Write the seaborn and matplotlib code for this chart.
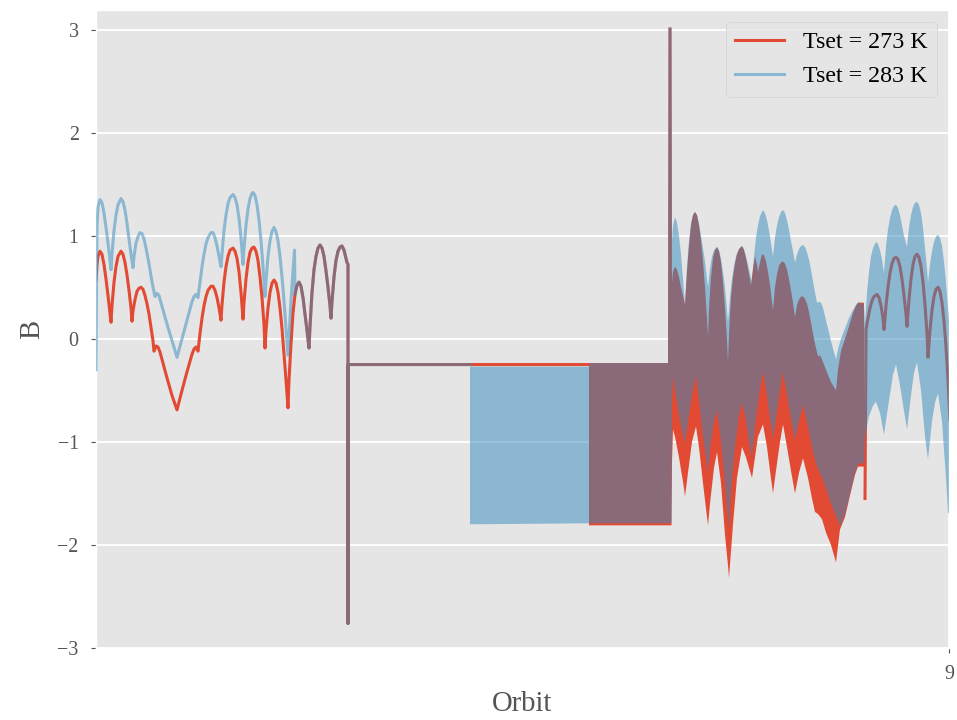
import matplotlib
matplotlib.use("Agg")
import matplotlib.pyplot as plt
import seaborn as sns

# ---------------------------------------------------------------------------
# Magnetic field component B along the orbit, for two set-point temperatures.
# Resolved stretches are stored as (orbit, B) lines; stretches where the
# signal oscillates too fast to resolve are stored as upper / lower envelopes.
# ---------------------------------------------------------------------------

# Tset = 273 K, resolved head of the record
head_273 = [
    (8.147, 0.57), (8.148, 0.72), (8.149, 0.80), (8.151, 0.85), (8.153, 0.82),
    (8.155, 0.72), (8.157, 0.58), (8.159, 0.42), (8.161, 0.25), (8.162, 0.16),
    (8.163, 0.32), (8.165, 0.55), (8.167, 0.70), (8.169, 0.80), (8.172, 0.85),
    (8.174, 0.82), (8.176, 0.74), (8.178, 0.62), (8.180, 0.47), (8.182, 0.30),
    (8.183, 0.17), (8.184, 0.27), (8.186, 0.38), (8.188, 0.46), (8.190, 0.49),
    (8.192, 0.50), (8.194, 0.48), (8.196, 0.42), (8.198, 0.34), (8.200, 0.24),
    (8.202, 0.11), (8.204, -0.02), (8.205, -0.12), (8.207, -0.07), (8.209, -0.08),
    (8.211, -0.13), (8.213, -0.20), (8.218, -0.38), (8.223, -0.55), (8.228, -0.69),
    (8.233, -0.50), (8.238, -0.32), (8.243, -0.15), (8.245, -0.10), (8.247, -0.08),
    (8.249, -0.12), (8.251, 0.05), (8.253, 0.20), (8.255, 0.32), (8.257, 0.41),
    (8.259, 0.47), (8.262, 0.51), (8.264, 0.51), (8.266, 0.47), (8.268, 0.40),
    (8.270, 0.30), (8.272, 0.18), (8.273, 0.33), (8.275, 0.55), (8.277, 0.70),
    (8.279, 0.80), (8.281, 0.86), (8.284, 0.88), (8.286, 0.85), (8.288, 0.78),
    (8.290, 0.65), (8.292, 0.45), (8.294, 0.19), (8.295, 0.35), (8.297, 0.58),
    (8.299, 0.74), (8.301, 0.84), (8.303, 0.88), (8.305, 0.89), (8.307, 0.85),
    (8.309, 0.76), (8.311, 0.60), (8.313, 0.40), (8.315, 0.14), (8.316, -0.09),
    (8.317, 0.08), (8.319, 0.30), (8.321, 0.45), (8.323, 0.54), (8.325, 0.57),
    (8.327, 0.54), (8.329, 0.45), (8.331, 0.30), (8.333, 0.10), (8.335, -0.15),
    (8.337, -0.40), (8.339, -0.67), (8.340, -0.40), (8.342, -0.05), (8.344, 0.25),
    (8.346, 0.43),
]

# Tset = 283 K, resolved head of the record
head_283 = [
    (8.147, -0.30), (8.148, 1.10), (8.149, 1.28), (8.151, 1.35), (8.153, 1.32),
    (8.155, 1.22), (8.157, 1.08), (8.159, 0.93), (8.161, 0.76), (8.162, 0.67),
    (8.163, 0.82), (8.165, 1.05), (8.167, 1.20), (8.169, 1.30), (8.172, 1.36),
    (8.174, 1.33), (8.176, 1.25), (8.178, 1.12), (8.180, 0.97), (8.182, 0.82),
    (8.184, 0.69), (8.185, 0.80), (8.187, 0.93), (8.189, 0.99), (8.191, 1.03),
    (8.193, 1.02), (8.195, 0.97), (8.197, 0.88), (8.199, 0.78), (8.201, 0.67),
    (8.203, 0.55), (8.206, 0.41), (8.208, 0.44), (8.210, 0.42), (8.214, 0.28),
    (8.219, 0.11), (8.224, -0.05), (8.228, -0.18), (8.233, 0.00), (8.238, 0.18),
    (8.243, 0.36), (8.245, 0.41), (8.247, 0.43), (8.249, 0.40), (8.251, 0.55),
    (8.253, 0.70), (8.255, 0.82), (8.257, 0.92), (8.259, 0.98), (8.262, 1.03),
    (8.264, 1.03), (8.266, 0.98), (8.268, 0.90), (8.270, 0.80), (8.272, 0.70),
    (8.273, 0.82), (8.275, 1.05), (8.277, 1.20), (8.279, 1.31), (8.281, 1.37),
    (8.284, 1.40), (8.286, 1.37), (8.288, 1.30), (8.290, 1.17), (8.292, 0.98),
    (8.294, 0.72), (8.295, 0.88), (8.297, 1.10), (8.299, 1.26), (8.301, 1.36),
    (8.303, 1.41), (8.304, 1.42), (8.306, 1.39), (8.308, 1.30), (8.310, 1.15),
    (8.312, 0.95), (8.314, 0.70), (8.316, 0.41), (8.317, 0.56), (8.319, 0.80),
    (8.321, 0.95), (8.323, 1.04), (8.325, 1.08), (8.327, 1.04), (8.329, 0.95),
    (8.331, 0.80), (8.333, 0.60), (8.335, 0.37), (8.337, 0.10), (8.339, -0.16),
    (8.341, 0.20), (8.343, 0.52), (8.3455, 0.86), (8.346, 0.43),
]

# stretch where both runs give the same values (drop-out and flat hold)
shared = [
    (8.348, 0.52), (8.350, 0.55), (8.352, 0.51), (8.354, 0.40), (8.356, 0.24),
    (8.358, 0.08), (8.360, -0.09), (8.361, 0.12), (8.363, 0.45), (8.365, 0.67),
    (8.367, 0.80), (8.369, 0.88), (8.371, 0.91), (8.373, 0.88), (8.375, 0.80),
    (8.377, 0.66), (8.379, 0.50), (8.381, 0.32), (8.382, 0.20), (8.383, 0.36),
    (8.385, 0.60), (8.387, 0.76), (8.389, 0.85), (8.391, 0.89), (8.393, 0.90),
    (8.395, 0.86), (8.397, 0.78), (8.398, 0.74), (8.399, 0.72), (8.399, -2.76),
    (8.399, -0.25),
]
hold_end_273 = [(8.640, -0.25)]
hold_end_283 = [(8.521, -0.25)]

# Tset = 273 K, fast-oscillating stretch: upper and lower envelope
upper_273 = [
    (8.640, -0.235), (8.719, -0.235), (8.7195, 3.02), (8.7225, 3.02),
    (8.723, 0.55), (8.724, 0.65), (8.726, 0.70), (8.728, 0.67), (8.730, 0.60),
    (8.732, 0.50), (8.734, 0.42), (8.736, 0.33), (8.738, 0.65), (8.740, 0.90),
    (8.742, 1.10), (8.744, 1.20), (8.746, 1.23), (8.748, 1.20), (8.750, 1.10),
    (8.752, 0.95), (8.754, 0.75), (8.756, 0.50), (8.758, 0.20), (8.759, 0.02),
    (8.760, 0.30), (8.762, 0.60), (8.764, 0.78), (8.766, 0.86), (8.768, 0.89),
    (8.770, 0.85), (8.772, 0.74), (8.774, 0.55), (8.776, 0.30), (8.778, 0.00),
    (8.779, -0.23), (8.780, 0.05), (8.782, 0.40), (8.784, 0.60), (8.786, 0.73),
    (8.788, 0.82), (8.790, 0.87), (8.793, 0.90), (8.795, 0.86), (8.797, 0.78),
    (8.799, 0.68), (8.801, 0.57), (8.802, 0.52), (8.804, 0.68), (8.806, 0.80),
    (8.808, 0.72), (8.809, 0.65), (8.811, 0.74), (8.813, 0.82), (8.815, 0.81),
    (8.817, 0.75), (8.819, 0.65), (8.821, 0.52), (8.823, 0.36), (8.824, 0.28),
    (8.826, 0.50), (8.828, 0.63), (8.830, 0.71), (8.832, 0.74), (8.834, 0.75),
    (8.836, 0.73), (8.838, 0.67), (8.840, 0.58), (8.842, 0.47), (8.844, 0.35),
    (8.846, 0.21), (8.848, 0.33), (8.850, 0.38), (8.852, 0.41), (8.854, 0.41),
    (8.856, 0.39), (8.858, 0.34), (8.860, 0.26), (8.862, 0.16), (8.864, 0.05),
    (8.866, -0.05), (8.869, -0.17), (8.871, -0.16), (8.873, -0.20), (8.877, -0.30),
    (8.882, -0.42), (8.887, -0.50), (8.889, -0.30), (8.892, -0.12), (8.896, 0.00),
    (8.900, 0.12), (8.904, 0.25), (8.907, 0.32), (8.909, 0.35), (8.912, 0.35),
    (8.915, 0.35),
]
lower_273 = [
    (8.640, -1.81), (8.7225, -1.81), (8.723, -1.20), (8.724, -0.88), (8.726, -0.95),
    (8.730, -1.15), (8.735, -1.45), (8.736, -1.53), (8.739, -1.30), (8.743, -1.00),
    (8.747, -0.85), (8.750, -1.05), (8.754, -1.40), (8.757, -1.65), (8.759, -1.81),
    (8.761, -1.60), (8.765, -1.25), (8.768, -1.10), (8.772, -1.40), (8.776, -1.90),
    (8.779, -2.20), (8.780, -2.32), (8.784, -1.80), (8.788, -1.35), (8.793, -1.05),
    (8.797, -1.15), (8.800, -1.25), (8.803, -1.35), (8.806, -1.15), (8.809, -0.95),
    (8.814, -0.83), (8.818, -1.05), (8.821, -1.28), (8.824, -1.50), (8.827, -1.28),
    (8.831, -1.00), (8.834, -0.83), (8.838, -1.05), (8.842, -1.28), (8.846, -1.50),
    (8.850, -1.30), (8.854, -1.16), (8.859, -1.35), (8.863, -1.55), (8.866, -1.68),
    (8.869, -1.70), (8.873, -1.75), (8.877, -1.88), (8.882, -2.00), (8.887, -2.17),
    (8.891, -1.85), (8.896, -1.73), (8.901, -1.52), (8.906, -1.32), (8.909, -1.24),
    (8.915, -1.24),
]

# Tset = 273 K, resolved tail of the record
tail_273 = [
    (8.916, -1.55), (8.917, 0.09), (8.919, 0.20), (8.921, 0.30), (8.923, 0.37),
    (8.925, 0.41), (8.928, 0.43), (8.930, 0.40), (8.932, 0.32), (8.934, 0.20),
    (8.935, 0.09), (8.937, 0.32), (8.939, 0.50), (8.941, 0.64), (8.943, 0.73),
    (8.945, 0.78), (8.947, 0.79), (8.949, 0.77), (8.951, 0.70), (8.953, 0.58),
    (8.955, 0.42), (8.957, 0.24), (8.958, 0.12), (8.960, 0.38), (8.962, 0.58),
    (8.964, 0.72), (8.966, 0.80), (8.968, 0.82), (8.970, 0.79), (8.972, 0.70),
    (8.974, 0.55), (8.976, 0.33), (8.978, 0.05), (8.979, -0.18), (8.981, 0.08),
    (8.983, 0.28), (8.985, 0.41), (8.987, 0.48), (8.989, 0.50), (8.991, 0.46),
    (8.993, 0.35), (8.995, 0.17), (8.997, -0.08), (8.999, -0.40), (9.001, -0.79),
]

# Tset = 283 K, fast-oscillating stretch: upper and lower envelope
upper_283 = [
    (8.521, -0.27), (8.640, -0.27), (8.6405, -0.235), (8.719, -0.235),
    (8.7195, 3.02), (8.7225, 3.02),
    (8.723, 0.95), (8.724, 1.10), (8.726, 1.18), (8.728, 1.13), (8.730, 1.00),
    (8.732, 0.82), (8.734, 0.58), (8.736, 0.33), (8.738, 0.70), (8.740, 0.95),
    (8.742, 1.12), (8.744, 1.20), (8.746, 1.23), (8.748, 1.20), (8.750, 1.12),
    (8.752, 1.00), (8.754, 0.88), (8.756, 0.75), (8.759, 0.50), (8.761, 0.68),
    (8.763, 0.80), (8.765, 0.86), (8.768, 0.89), (8.770, 0.86), (8.772, 0.78),
    (8.774, 0.65), (8.776, 0.50), (8.779, 0.17), (8.781, 0.40), (8.783, 0.58),
    (8.785, 0.70), (8.787, 0.80), (8.790, 0.87), (8.793, 0.90), (8.795, 0.87),
    (8.797, 0.80), (8.799, 0.72), (8.801, 0.63), (8.803, 0.55), (8.805, 0.80),
    (8.807, 0.98), (8.809, 1.10), (8.811, 1.19), (8.814, 1.25), (8.816, 1.22),
    (8.818, 1.15), (8.820, 1.05), (8.822, 0.93), (8.824, 0.80), (8.826, 0.98),
    (8.828, 1.10), (8.830, 1.18), (8.832, 1.23), (8.834, 1.25), (8.836, 1.22),
    (8.838, 1.15), (8.840, 1.06), (8.842, 0.95), (8.844, 0.85), (8.846, 0.74),
    (8.848, 0.82), (8.850, 0.87), (8.852, 0.90), (8.854, 0.91), (8.856, 0.89),
    (8.858, 0.84), (8.860, 0.77), (8.862, 0.67), (8.864, 0.56), (8.866, 0.45),
    (8.868, 0.35), (8.870, 0.36), (8.872, 0.35), (8.874, 0.30), (8.877, 0.18),
    (8.880, 0.06), (8.883, -0.06), (8.887, -0.20), (8.889, -0.10), (8.892, 0.00),
    (8.896, 0.10), (8.900, 0.20), (8.904, 0.28), (8.907, 0.33), (8.909, 0.35),
    (8.912, 0.35), (8.915, 0.32), (8.916, 0.15), (8.918, 0.45), (8.920, 0.65),
    (8.922, 0.80), (8.924, 0.88), (8.927, 0.94), (8.929, 0.92), (8.931, 0.86),
    (8.933, 0.77), (8.935, 0.64), (8.937, 0.90), (8.939, 1.06), (8.941, 1.17),
    (8.943, 1.25), (8.945, 1.29), (8.947, 1.30), (8.949, 1.27), (8.951, 1.20),
    (8.953, 1.10), (8.955, 1.00), (8.958, 0.89), (8.960, 1.08), (8.962, 1.20),
    (8.964, 1.28), (8.966, 1.32), (8.968, 1.33), (8.970, 1.30), (8.972, 1.22),
    (8.974, 1.08), (8.976, 0.88), (8.978, 0.68), (8.979, 0.54), (8.981, 0.72),
    (8.983, 0.85), (8.985, 0.94), (8.987, 0.99), (8.989, 1.01), (8.991, 0.98),
    (8.993, 0.90), (8.995, 0.75), (8.997, 0.55), (8.999, 0.30), (9.001, 0.09),
]
lower_283 = [
    (8.521, -1.80), (8.640, -1.79), (8.7225, -1.79), (8.723, -0.60), (8.724, -0.37),
    (8.726, -0.50), (8.730, -0.75), (8.735, -0.98), (8.736, -1.01), (8.739, -0.80),
    (8.743, -0.55), (8.746, -0.40), (8.747, -0.36), (8.750, -0.60), (8.754, -0.95),
    (8.759, -1.30), (8.762, -1.00), (8.765, -0.80), (8.768, -0.69), (8.772, -1.00),
    (8.776, -1.40), (8.779, -1.75), (8.780, -1.85), (8.782, -1.50), (8.786, -1.05),
    (8.790, -0.75), (8.793, -0.62), (8.797, -0.80), (8.800, -1.00), (8.803, -1.15),
    (8.806, -0.85), (8.810, -0.55), (8.814, -0.32), (8.818, -0.55), (8.821, -0.78),
    (8.824, -0.98), (8.827, -0.78), (8.831, -0.50), (8.834, -0.32), (8.838, -0.55),
    (8.842, -0.78), (8.846, -0.98), (8.850, -0.80), (8.854, -0.64), (8.859, -0.85),
    (8.864, -1.10), (8.868, -1.24), (8.873, -1.35), (8.877, -1.45), (8.882, -1.60),
    (8.887, -1.72), (8.891, -1.82), (8.896, -1.70), (8.901, -1.50), (8.906, -1.30),
    (8.909, -1.22), (8.915, -1.20), (8.916, -0.95), (8.920, -0.75), (8.924, -0.65),
    (8.927, -0.61), (8.931, -0.72), (8.935, -0.93), (8.940, -0.60), (8.944, -0.35),
    (8.947, -0.25), (8.951, -0.45), (8.955, -0.70), (8.958, -0.88), (8.962, -0.55),
    (8.965, -0.33), (8.968, -0.23), (8.972, -0.50), (8.976, -0.95), (8.979, -1.17),
    (8.983, -0.80), (8.986, -0.62), (8.989, -0.53), (8.993, -0.80), (8.997, -1.35),
    (8.999, -1.69), (9.001, -1.69),
]

labels = ["Tset = 273 K", "Tset = 283 K"]
y_ticks = [-3, -2, -1, 0, 1, 2, 3]
x_ticks = [9]


def split(points):
    xs, ys = zip(*points)
    return list(xs), list(ys)


def band_outline(upper, lower):
    ux, uy = split(upper)
    lx, ly = split(lower)
    return ux + lx[::-1], uy + ly[::-1]


# ---------------------------------------------------------------------------
plt.style.use("ggplot")
plt.rcParams["font.family"] = ["Liberation Serif", "DejaVu Serif"]
plt.rcParams["axes.unicode_minus"] = True

RED = "#E24A33"
BLUE = "#348ABD"
LW = 2.2

fig = plt.figure(figsize=(9.57, 7.2), dpi=100)
ax = fig.add_axes([96 / 957, 72 / 720, 853 / 957, 638 / 720])

# 273 K underneath
x, y = split(head_273 + shared + hold_end_273)
sns.lineplot(x=x, y=y, sort=False, estimator=None, color=RED, lw=LW,
             ax=ax, label=labels[0], zorder=2)
bx, by = band_outline(upper_273, lower_273)
ax.fill(bx, by, color=RED, lw=0, zorder=2)
x, y = split(tail_273)
sns.lineplot(x=x, y=y, sort=False, estimator=None, color=RED, lw=LW,
             ax=ax, zorder=2)

# 283 K on top, half transparent
x, y = split(head_283 + shared + hold_end_283)
sns.lineplot(x=x, y=y, sort=False, estimator=None, color=BLUE, alpha=0.5,
             lw=LW, ax=ax, label=labels[1], zorder=3)
bx, by = band_outline(upper_283, lower_283)
ax.fill(bx, by, color=BLUE, alpha=0.5, lw=0, zorder=3)

ax.set_xlim(8.147, 9.0)
ax.set_ylim(-3, 3.19)
ax.set_xticks(x_ticks)
ax.set_yticks(y_ticks)
ax.grid(True, color="white", lw=1.3)
ax.tick_params(labelsize=14.4, pad=9)
ax.set_xlabel("Orbit", fontsize=20.7, labelpad=5)
ax.set_ylabel("B", fontsize=20.7, labelpad=8.5)

handles, hl = ax.get_legend_handles_labels()
keep = [i for i, t in enumerate(hl) if t in labels]
ax.legend([handles[i] for i in keep], [hl[i] for i in keep],
          loc="upper right", fontsize=17.3)

fig.savefig("out.png", dpi=100)
